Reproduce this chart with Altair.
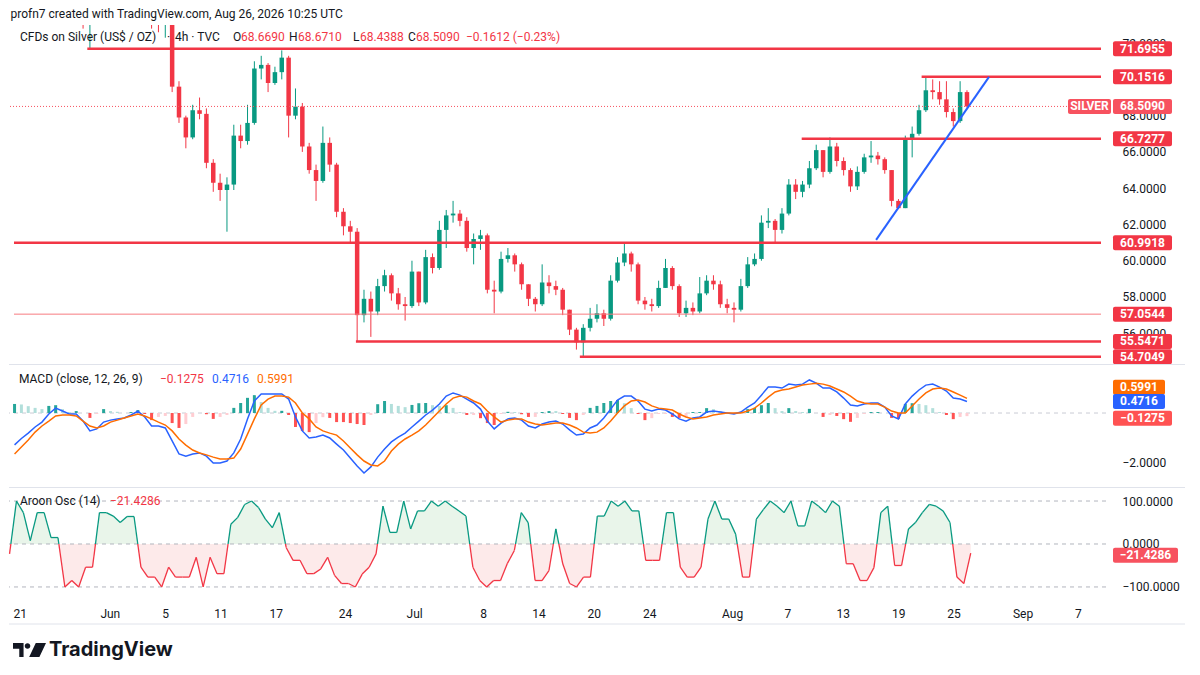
import altair as alt
import numpy as np
import pandas as pd

FONT = "Roboto"
INK = "#131722"
RED = "#f23645"
UPC = "#089981"
BLUE = "#2962ff"
ORANGE = "#ff6d00"

W = 1097
H_PRICE, H_MACD, H_AROON = 338, 120, 113
X_MIN, X_MAX = -0.29, 79.03

# time index: trading days since Thu May 21 2026, two bars per trading day
bar_t = [-0.25 + 0.5 * k for k in range(140)]

close = [74.2, 74.9, 75.4, 75.9, 76.3, 76.6, 76.9, 76.4, 75.7, 74.6,
         73.6, 73.9, 74.6, 75.2, 75.6, 75.9, 76.2, 76.5, 76.8, 75.9,
         74.4, 73.8, 74.1, 69.6, 67.9, 66.8, 68.3, 68.1, 65.4, 64.3,
         63.9, 64.2, 66.9, 66.6, 67.6, 70.6, 70.8, 69.8, 70.4, 71.2,
         68.0, 68.5, 66.3, 65.0, 64.4, 66.5, 65.3, 62.7, 61.9, 61.6,
         57.0, 57.9, 57.2, 58.6, 59.2, 58.2, 57.6, 57.5, 59.4, 57.7,
         60.2, 59.6, 61.7, 62.5, 62.6, 62.2, 60.7, 61.2, 61.4, 58.4,
         58.3, 60.1, 60.3, 59.8, 58.7, 57.9, 57.6, 58.8, 58.6, 58.4,
         57.3, 56.2, 55.5, 56.3, 56.8, 57.1, 56.8, 58.9, 59.9, 60.4,
         59.8, 57.8, 57.6, 57.5, 58.5, 59.6, 58.6, 57.1, 57.4, 57.2,
         58.2, 58.9, 58.7, 57.6, 57.4, 57.3, 58.6, 59.8, 60.1, 62.1,
         62.2, 61.7, 62.6, 64.2, 63.8, 64.2, 65.1, 66.1, 64.9, 66.3,
         65.5, 65.0, 64.1, 64.9, 65.7, 65.8, 65.6, 65.0, 63.3, 62.9,
         66.7, 67.0, 68.3, 69.4, 69.3, 68.9, 68.2, 67.7, 69.3, 68.509]
high = [74.8, 75.2, 75.9, 76.3, 76.8, 77.1, 77.4, 77.2, 76.6, 75.9,
        74.8, 74.3, 75.0, 75.6, 76.1, 76.4, 76.7, 77.0, 77.3, 77.0,
        76.0, 74.6, 74.6, 74.3, 69.9, 68.0, 68.6, 69.0, 68.4, 65.6,
        64.8, 64.6, 67.5, 67.5, 68.6, 71.0, 71.3, 70.9, 70.7, 71.6,
        71.3, 69.5, 68.7, 66.5, 65.3, 67.4, 66.8, 65.4, 62.9, 62.2,
        61.8, 58.4, 58.3, 59.0, 59.5, 59.3, 58.5, 58.0, 60.0, 59.4,
        60.6, 60.4, 62.2, 62.8, 63.3, 62.8, 62.4, 61.5, 61.7, 61.5,
        58.9, 60.5, 60.7, 60.4, 59.9, 58.7, 58.0, 59.8, 59.2, 58.9,
        58.5, 57.3, 56.3, 56.5, 57.4, 57.6, 57.3, 59.2, 60.2, 61.0,
        60.5, 59.9, 58.0, 57.9, 58.9, 60.1, 59.7, 58.7, 57.8, 57.7,
        59.1, 59.2, 59.2, 58.9, 57.9, 57.7, 59.0, 60.2, 60.4, 62.5,
        62.9, 62.3, 62.9, 64.5, 64.5, 64.4, 65.5, 66.4, 66.1, 66.8,
        66.5, 65.7, 65.1, 65.2, 65.9, 66.6, 66.0, 65.7, 65.0, 63.4,
        66.9, 67.4, 68.6, 70.15, 70.0, 69.9, 69.9, 68.4, 69.9, 69.4]
low = [73.6, 73.9, 74.6, 75.1, 75.6, 75.9, 76.2, 75.9, 75.1, 74.0,
       72.8, 71.70, 73.5, 74.3, 74.9, 75.2, 75.5, 75.8, 76.1, 75.3,
       72.8, 72.6, 72.3, 69.3, 67.6, 66.2, 66.7, 67.8, 65.1, 63.8,
       63.3, 61.6, 63.9, 66.2, 66.4, 67.5, 70.0, 69.3, 69.7, 70.0,
       66.8, 67.8, 66.0, 64.8, 63.3, 64.3, 64.9, 62.4, 61.4, 61.0,
       55.55, 56.6, 55.8, 57.0, 58.3, 57.8, 57.3, 56.7, 57.4, 57.5,
       57.6, 59.3, 59.5, 60.7, 62.1, 61.9, 60.5, 59.8, 60.6, 58.2,
       57.1, 58.2, 59.9, 59.4, 58.4, 57.5, 57.2, 57.5, 58.2, 58.1,
       57.0, 55.9, 55.1, 54.70, 56.1, 56.6, 56.4, 56.7, 58.8, 59.7,
       59.4, 57.6, 57.3, 57.2, 57.4, 58.5, 58.4, 56.9, 56.9, 57.0,
       57.1, 58.1, 58.4, 57.4, 57.1, 56.6, 57.2, 58.5, 59.7, 60.0,
       61.8, 61.0, 61.5, 62.5, 63.4, 63.5, 64.0, 65.0, 64.6, 64.8,
       65.2, 64.7, 63.8, 63.9, 64.8, 65.4, 65.3, 64.8, 63.0, 62.85,
       62.9, 65.7, 66.9, 68.2, 68.9, 68.6, 67.9, 67.4, 67.6, 68.44]
first_open = 73.7

macd_line = [-1.30, -1.04, -0.82, -0.57, -0.37, -0.04, 0.20, 0.08, -0.04, -0.04,
             -0.33, -0.73, -0.65, -0.37, -0.29, -0.24, -0.20, -0.08, 0.08, -0.16,
             -0.53, -0.53, -0.61, -1.14, -1.67, -1.76, -1.67, -1.63, -1.76, -2.04,
             -2.04, -1.96, -1.63, -1.06, -0.24, 0.49, 0.78, 0.78, 0.78, 0.78,
             0.57, -0.16, -0.73, -1.02, -0.98, -0.90, -1.02, -1.27, -1.51, -1.84,
             -2.16, -2.45, -2.20, -1.80, -1.47, -1.18, -0.98, -0.82, -0.57, -0.33,
             -0.08, 0.12, 0.37, 0.69, 0.82, 0.73, 0.57, 0.41, 0.16, -0.33,
             -0.65, -0.41, -0.24, -0.20, -0.29, -0.53, -0.61, -0.45, -0.37, -0.33,
             -0.45, -0.69, -0.90, -0.86, -0.61, -0.49, -0.20, 0.16, 0.53, 0.69,
             0.69, 0.49, 0.16, 0.08, 0.16, 0.12, -0.04, -0.24, -0.33, -0.20,
             -0.16, 0.04, 0.08, 0.04, 0.00, -0.04, 0.04, 0.24, 0.41, 0.73,
             1.06, 1.06, 1.02, 1.18, 1.14, 1.18, 1.35, 1.22, 1.02, 1.02,
             0.86, 0.61, 0.33, 0.29, 0.37, 0.41, 0.41, 0.24, -0.12, -0.24,
             0.37, 0.69, 0.94, 1.14, 1.18, 1.06, 0.90, 0.61, 0.57, 0.4716]
signal_line = [-1.67, -1.39, -1.10, -0.78, -0.53, -0.33, -0.12, -0.08, -0.08, -0.12,
               -0.33, -0.53, -0.61, -0.53, -0.37, -0.29, -0.20, -0.12, -0.04, -0.12,
               -0.24, -0.37, -0.49, -0.73, -1.06, -1.31, -1.51, -1.63, -1.71, -1.80,
               -1.88, -1.88, -1.84, -1.47, -0.86, -0.24, 0.33, 0.57, 0.69, 0.69,
               0.65, 0.41, 0.00, -0.24, -0.57, -0.73, -0.82, -0.90, -1.14, -1.43,
               -1.71, -1.96, -2.12, -2.16, -1.96, -1.55, -1.27, -1.06, -0.90, -0.73,
               -0.49, -0.20, 0.08, 0.37, 0.61, 0.69, 0.65, 0.49, 0.37, 0.08,
               -0.16, -0.37, -0.29, -0.24, -0.24, -0.37, -0.45, -0.49, -0.45, -0.41,
               -0.41, -0.49, -0.61, -0.78, -0.82, -0.78, -0.61, -0.33, 0.00, 0.29,
               0.49, 0.53, 0.45, 0.29, 0.20, 0.16, 0.12, -0.04, -0.16, -0.24,
               -0.20, -0.16, -0.08, -0.04, 0.00, 0.00, 0.00, 0.08, 0.20, 0.41,
               0.65, 0.86, 0.94, 0.98, 1.06, 1.14, 1.18, 1.22, 1.18, 1.10,
               0.98, 0.86, 0.69, 0.49, 0.41, 0.37, 0.37, 0.24, 0.08, 0.00,
               0.00, 0.29, 0.57, 0.82, 0.98, 1.02, 0.98, 0.86, 0.73, 0.5991]
aroon_osc = [-23, 100, 73, 8, 73, 73, 15, 15, -100, -85,
             -100, -54, -54, 73, 73, 65, 50, 64, 64, -54,
             -77, -77, -100, -54, -77, -77, -77, -31, -100, -31,
             -69, -69, 46, 62, 92, 100, 85, 58, 38, 73,
             -8, -38, -38, -69, -69, -58, -31, -73, -92, -92,
             -100, -70, -54, -23, 88, 27, 27, 100, 35, 77,
             77, 100, 88, 100, 88, 77, 65, -54, -85, -100,
             -85, -85, -45, -15, 73, 50, -85, -85, -62, 35,
             -46, -92, -100, -77, -77, 65, 65, 100, 88, 100,
             77, 77, -38, -38, -38, 73, 73, -54, -77, -77,
             -54, 58, 100, 58, 58, 23, -77, -77, 58, 80,
             100, 88, 73, 100, 42, 42, 100, 88, 73, 100,
             88, -46, -46, -85, -85, -55, 73, 88, -50, -50,
             35, 50, 73, 92, 88, 77, 50, -77, -92, -21.4286]

major_levels = [71.6955, 70.1516, 66.7277, 60.9918, 55.5471, 54.7049]
major_start = [5.06, 65.94, 57.19, X_MIN, 24.66, 41.0]
minor_levels = [57.0544]
minor_start = [X_MIN]
trend_t = [62.62, 70.86]
trend_p = [61.15, 70.14]
last_price = 68.509
ohlc_text = ["68.6690", "68.6710", "68.4388", "68.5090"]
change_text = "\u22120.1612 (\u22120.23%)"
macd_last = [0.5991, 0.4716, -0.1275]
aroon_last = -21.4286

# right-hand scale labels that are not hidden behind a price tag
price_ticks = [56, 58, 60, 62, 64, 66, 68, 72]
macd_ticks = [-2]
aroon_ticks = [-100, 0, 100]

tick_t = [0, 7, 11, 15, 19, 24, 29, 34, 38, 42, 46, 52, 56, 60, 64, 68, 73, 77]
tick_lab = ["21", "Jun", "5", "11", "17", "24", "Jul", "8", "14", "20", "24",
            "Aug", "7", "13", "19", "25", "Sep", "7"]

# ---------------------------------------------------------------- scales/axes
XS = alt.Scale(domain=[X_MIN, X_MAX], nice=False, zero=False)
PS = alt.Scale(domain=[54.36, 73.0], nice=False, zero=False)
MS = alt.Scale(domain=[-2.98, 1.92], nice=False, zero=False)
AS = alt.Scale(domain=[-135, 128], nice=False, zero=False)
MINUS = "replace(format(datum.value, '.4f'), '-', '\u2212')"


def right_axis(vals):
    return alt.Axis(orient="right", values=vals, labelExpr=MINUS, title=None,
                    ticks=False, domain=False, grid=False,
                    labelPadding=16, labelFont=FONT, labelFontSize=12,
                    labelColor=INK)


PAX = right_axis(price_ticks)
MAX_ = right_axis(macd_ticks)
AAX = right_axis(aroon_ticks)

lab_js = "[" + ",".join(f"'{s}'" for s in tick_lab) + "]"
t_js = "[" + ",".join(str(v) for v in tick_t) + "]"
XAX = alt.Axis(values=tick_t, labelExpr=f"{lab_js}[indexof({t_js}, datum.value)]",
               ticks=False, domain=False, grid=False, labelPadding=6,
               labelFont=FONT, labelFontSize=12, labelColor=INK, title=None,
               labelFlush=6, labelOverlap=False)

ONE = pd.DataFrame({"k": [0.0]})


def txt(s, x, y, color=INK, size=12, weight="normal", font=FONT):
    return alt.Chart(ONE).mark_text(text=s, align="left", baseline="middle",
                                    font=font, fontSize=size, fontWeight=weight,
                                    color=color).encode(x=alt.value(x), y=alt.value(y))


def value_box(values, texts, scale, axis, fill, x0=1104, x1=1163, half=7.5, shift=0.0):
    d = pd.DataFrame({"v": values, "s": texts})
    rect = alt.Chart(d).mark_rect(color=fill, cornerRadius=2, yOffset=-half + shift,
                                  y2Offset=half + shift).encode(
        x=alt.value(x0), x2=alt.value(x1),
        y=alt.Y("v:Q", scale=scale, axis=axis), y2="v:Q")
    t = alt.Chart(d).mark_text(color="white", font=FONT, fontSize=12, fontWeight="bold",
                               align="center", baseline="middle", dy=shift).encode(
        x=alt.value((x0 + x1) / 2), y=alt.Y("v:Q", scale=scale, axis=axis), text="s:N")
    return [rect, t]


def separator(y):
    return alt.Chart(ONE).mark_rule(color="#e0e3eb", strokeWidth=1).encode(
        x=alt.value(0), x2=alt.value(1176), y=alt.value(y))


# ---------------------------------------------------------------- price pane
opens = [first_open] + close[:-1]
cdf = pd.DataFrame({"t": bar_t, "open": opens, "high": high, "low": low, "close": close})
cdf["dir"] = np.where(cdf["close"] >= cdf["open"], "up", "down")
ccol = alt.Color("dir:N", scale=alt.Scale(domain=["up", "down"], range=[UPC, RED]), legend=None)

wicks = alt.Chart(cdf).mark_rule(clip=True, strokeWidth=1).encode(
    x=alt.X("t:Q", scale=XS, axis=None),
    y=alt.Y("low:Q", scale=PS, axis=PAX),
    y2="high:Q", color=ccol)
bodies = alt.Chart(cdf).mark_bar(clip=True, size=4.5).encode(
    x=alt.X("t:Q", scale=XS, axis=None),
    y=alt.Y("open:Q", scale=PS, axis=PAX), y2="close:Q", color=ccol)

cur = alt.Chart(pd.DataFrame({"p": [last_price]})).mark_rule(
    color="#f7525f", strokeDash=[1, 2], strokeWidth=1).encode(
    y=alt.Y("p:Q", scale=PS, axis=PAX))

lv_major = pd.DataFrame({"p": major_levels, "start": major_start, "end": [X_MAX] * len(major_levels)})
lv_minor = pd.DataFrame({"p": minor_levels, "start": minor_start, "end": [X_MAX] * len(minor_levels)})
lines_major = alt.Chart(lv_major).mark_rule(color=RED, strokeWidth=2.5).encode(
    x=alt.X("start:Q", scale=XS, axis=None), x2="end:Q",
    y=alt.Y("p:Q", scale=PS, axis=PAX))
lines_minor = alt.Chart(lv_minor).mark_rule(color="#f77c80", strokeWidth=1).encode(
    x=alt.X("start:Q", scale=XS, axis=None), x2="end:Q",
    y=alt.Y("p:Q", scale=PS, axis=PAX))

tr = pd.DataFrame({"t": [trend_t[0]], "t2": [trend_t[1]], "p": [trend_p[0]], "p2": [trend_p[1]]})
trend = alt.Chart(tr).mark_rule(color=BLUE, strokeWidth=2).encode(
    x=alt.X("t:Q", scale=XS, axis=None), x2="t2:Q",
    y=alt.Y("p:Q", scale=PS, axis=PAX), y2="p2:Q")

all_levels = major_levels + minor_levels
level_boxes = value_box(all_levels, [f"{v:.4f}" for v in all_levels], PS, PAX, RED)
silver_boxes = (value_box([last_price], ["SILVER"], PS, PAX, "#f7525f", x0=1059, x1=1102)
                + value_box([last_price], [f"{last_price:.4f}"], PS, PAX, "#f7525f"))

price_head = [
    txt("CFDs on Silver (US$ / OZ)", 11, 12),
    txt("\u00b7", 158, 12),
    txt("4h \u00b7 TVC", 166, 12),
    txt("O", 224, 12), txt(ohlc_text[0], 232, 12, RED),
    txt("H", 280, 12), txt(ohlc_text[1], 289, 12, RED),
    txt("L", 344, 12), txt(ohlc_text[2], 351, 12, RED),
    txt("C", 399, 12), txt(ohlc_text[3], 407, 12, RED),
    txt(change_text, 457, 12, RED),
]

price = alt.layer(wicks, bodies, cur, lines_major, lines_minor, trend,
                  *level_boxes, *silver_boxes, *price_head).properties(width=W, height=H_PRICE)

# ---------------------------------------------------------------- MACD pane
mdf = pd.DataFrame({"t": bar_t, "macd": macd_line, "signal": signal_line})
mdf["hist"] = mdf["macd"] - mdf["signal"]
prev = mdf["hist"].shift(1).fillna(0)
mdf["hcol"] = np.where(mdf["hist"] >= 0,
                       np.where(mdf["hist"] >= prev, "#26a69a", "#b2dfdb"),
                       np.where(mdf["hist"] < prev, "#ff5252", "#ffcdd2"))
mdf["zero"] = 0.0

hist = alt.Chart(mdf).mark_bar(size=3).encode(
    x=alt.X("t:Q", scale=XS, axis=None),
    y=alt.Y("hist:Q", scale=MS, axis=MAX_), y2="zero:Q",
    color=alt.Color("hcol:N", scale=None))
mzero = alt.Chart(ONE).mark_rule(color="#c9ccd4", strokeDash=[4, 4], strokeWidth=1).encode(
    y=alt.Y("k:Q", scale=MS, axis=MAX_))
mline = alt.Chart(mdf).mark_line(color=BLUE, strokeWidth=1.5).encode(
    x=alt.X("t:Q", scale=XS, axis=None), y=alt.Y("macd:Q", scale=MS, axis=MAX_))
sline = alt.Chart(mdf).mark_line(color=ORANGE, strokeWidth=1.5).encode(
    x=alt.X("t:Q", scale=XS, axis=None), y=alt.Y("signal:Q", scale=MS, axis=MAX_))

macd_boxes = (value_box([macd_last[0]], [f"{macd_last[0]:.4f}"], MS, MAX_, ORANGE, x1=1156, shift=-11)
              + value_box([macd_last[1]], [f"{macd_last[1]:.4f}"], MS, MAX_, BLUE, x1=1156)
              + value_box([macd_last[2]], ["\u2212" + f"{abs(macd_last[2]):.4f}"], MS, MAX_,
                          "#ff5252", x1=1163, shift=2))

macd_head = [
    txt("MACD (close, 12, 26, 9)", 10, 13),
    txt("\u2212" + f"{abs(macd_last[2]):.4f}", 151, 13, "#f23645"),
    txt(f"{macd_last[1]:.4f}", 203, 13, BLUE),
    txt(f"{macd_last[0]:.4f}", 248, 13, ORANGE),
]

macd = alt.layer(mzero, hist, mline, sline, *macd_boxes, *macd_head,
                 separator(-1.5)).properties(width=W, height=H_MACD)

# ---------------------------------------------------------------- Aroon pane
pts_t, pts_v = [], []
for k in range(len(bar_t)):
    if k > 0:
        v0, v1 = aroon_osc[k - 1], aroon_osc[k]
        if v0 * v1 < 0:
            pts_t.append(bar_t[k - 1] + (bar_t[k] - bar_t[k - 1]) * v0 / (v0 - v1))
            pts_v.append(0.0)
    pts_t.append(bar_t[k])
    pts_v.append(float(aroon_osc[k]))
ar = pd.DataFrame({"t": pts_t, "v": pts_v})
ar["pos"] = ar["v"].clip(lower=0)
ar["neg"] = ar["v"].clip(upper=0)
ar["zero"] = 0.0
seg = pd.DataFrame({"t": pts_t[:-1], "t2": pts_t[1:], "v": pts_v[:-1], "v2": pts_v[1:]})
seg["sign"] = np.where(seg["v"] + seg["v2"] >= 0, "pos", "neg")

area_pos = alt.Chart(ar).mark_area(color="#e9f5ea", opacity=1).encode(
    x=alt.X("t:Q", scale=XS, axis=XAX),
    y=alt.Y("pos:Q", scale=AS, axis=AAX), y2="zero:Q")
area_neg = alt.Chart(ar).mark_area(color="#fdeaea", opacity=1).encode(
    x=alt.X("t:Q", scale=XS, axis=XAX),
    y=alt.Y("neg:Q", scale=AS, axis=AAX), y2="zero:Q")
dashes = alt.Chart(pd.DataFrame({"lvl": [-100.0, 0.0, 100.0]})).mark_rule(
    color="#b2b5be", strokeDash=[4, 4], strokeWidth=1).encode(
    y=alt.Y("lvl:Q", scale=AS, axis=AAX))
segs = alt.Chart(seg).mark_rule(strokeWidth=1.3).encode(
    x=alt.X("t:Q", scale=XS, axis=XAX), x2="t2:Q",
    y=alt.Y("v:Q", scale=AS, axis=AAX), y2="v2:Q",
    color=alt.Color("sign:N", scale=alt.Scale(domain=["pos", "neg"], range=["#4caf50", "#f7525f"]),
                    legend=None))
aroon_box = value_box([aroon_last], ["\u2212" + f"{abs(aroon_last):.4f}"], AS, AAX, "#f7525f",
                      x1=1169, shift=2)

LOGO = ("M-1,-0.42H-0.36V0.42H-0.62V-0.08H-1Z "
        "M-0.29,-0.24A0.17,0.17 0 1 0 0.05,-0.24A0.17,0.17 0 1 0 -0.29,-0.24Z "
        "M0.38,-0.42H1L0.6,0.42H-0.02Z")
logo = alt.Chart(ONE).mark_point(shape=LOGO, size=1089, filled=True, color=INK,
                                 opacity=1, strokeWidth=0).encode(
    x=alt.value(20.5), y=alt.value(161))

aroon_head = [
    txt("Aroon Osc (14)", 11, 12),
    txt("\u2212" + f"{abs(aroon_last):.4f}", 101, 12, "#f23645"),
]

aroon = alt.layer(area_pos, area_neg, dashes, segs, *aroon_box, *aroon_head,
                  separator(-1.5), separator(135), logo,
                  txt("TradingView", 40, 161, size=20, weight="bold", font="Inter")
                  ).properties(width=W, height=H_AROON)

chart = alt.vconcat(price, macd, aroon, spacing=3, bounds="flush").properties(
    padding=0,
    background="white",
    title=alt.TitleParams(text="profn7 created with TradingView.com, Aug 26, 2026 10:25 UTC",
                          anchor="start", font=FONT, fontSize=12, fontWeight="normal",
                          color=INK, offset=4, dx=2),
).configure_view(stroke=None)

chart.save("out.html", embed_options={"renderer": "svg", "actions": False})
